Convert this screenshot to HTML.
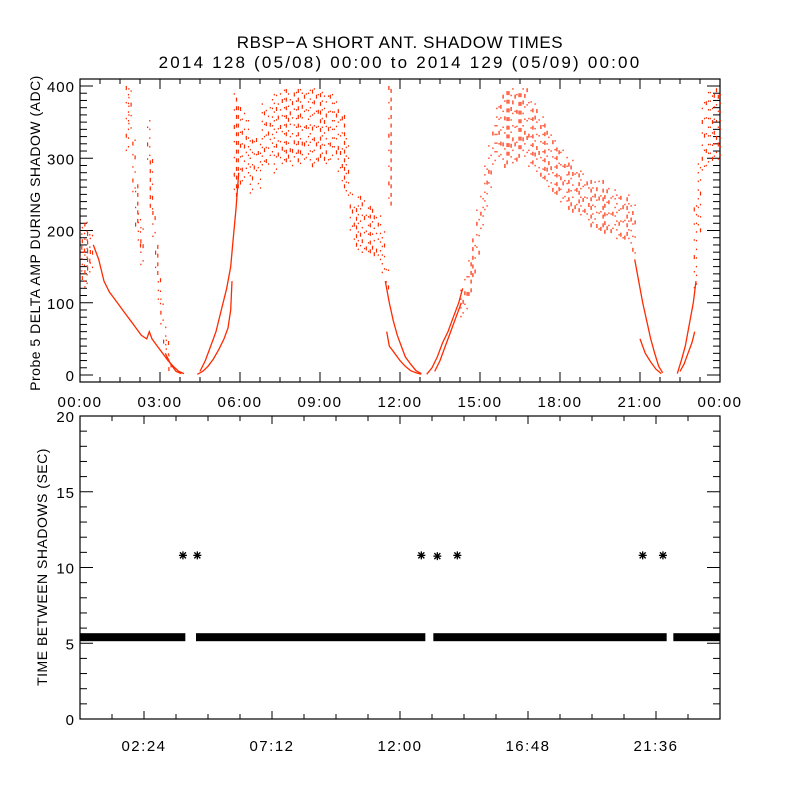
<!DOCTYPE html>
<html><head><meta charset="utf-8"><style>
body{margin:0;background:#fff}
svg{display:block;font-family:"Liberation Sans",sans-serif}
</style></head><body>
<svg id="chart" width="800" height="800" viewBox="0 0 800 800" xmlns="http://www.w3.org/2000/svg">
<rect width="800" height="800" fill="#fff"/>
<text x="400" y="48" text-anchor="middle" font-size="17" letter-spacing="0.6">RBSP−A SHORT ANT. SHADOW TIMES</text>
<text x="400" y="68" text-anchor="middle" font-size="17" letter-spacing="2.2">2014 128 (05/08) 00:00 to 2014 129 (05/09) 00:00</text>
<g id="topPanel"></g>
<g id="botPanel"></g>
</svg>
<script>
// ---- top panel data ----
const scatterT=[0.0,0.1,0.2,0.3,0.4,1.75,1.85,2.0,2.1,2.2,2.3,2.55,2.65,2.75,2.85,2.95,3.05,3.15,3.25,3.35,
5.8,5.95,6.1,6.25,6.4,6.55,6.7,6.85,7.0,7.15,7.3,7.45,7.6,7.75,7.9,8.05,8.2,8.35,8.5,8.65,8.8,8.95,9.1,9.25,9.4,9.55,9.7,9.85,10.0,
10.15,10.3,10.45,10.6,10.75,10.9,11.05,11.2,11.35,11.5,11.6,
14.3,14.45,14.6,14.75,14.9,15.05,15.2,15.35,15.5,15.65,15.8,15.95,16.1,16.25,16.4,16.55,16.7,16.85,17.0,17.15,17.3,17.45,17.6,17.75,17.9,18.05,18.2,18.35,18.5,18.65,18.8,18.95,19.1,19.25,19.4,19.55,19.7,19.85,20.0,20.15,20.3,20.45,20.6,20.75,
23.05,23.2,23.35,23.5,23.65,23.8,23.95];
const scatterLo=[140,130,120,140,150,310,340,250,210,180,150,300,230,190,140,100,70,40,20,10,
250,260,270,280,250,280,260,290,290,300,280,300,290,300,290,300,290,300,300,290,290,300,300,290,300,310,280,260,250,
200,180,170,170,170,170,170,160,140,120,240,
80,90,110,140,170,200,230,260,290,300,300,290,300,290,300,310,300,290,290,280,270,270,260,250,250,240,240,230,230,230,220,220,210,210,200,200,200,200,200,190,190,190,180,170,
120,200,280,290,300,300,300];
const scatterHi=[200,210,220,200,205,400,400,330,270,230,220,360,300,240,190,140,110,70,50,30,
390,380,370,360,330,340,320,380,380,390,390,390,400,400,390,400,400,400,400,400,400,400,400,390,390,380,370,360,330,
260,240,250,250,240,240,230,230,200,150,400,
120,140,160,190,230,250,290,320,350,380,390,400,400,400,400,400,400,390,380,370,360,350,340,330,320,320,310,300,300,290,290,280,280,270,270,270,260,260,260,250,250,250,250,240,
240,300,380,400,400,400,400];
const decayT=[0.5,0.7,0.9,1.1,1.3,1.5,1.7,1.9,2.1,2.3,2.5,2.6,2.7,2.9,3.1,3.3,3.5,3.7,3.9];
const decayV=[180,160,130,115,105,95,85,75,65,55,50,60,50,40,30,20,12,5,2];
const fall1T=[3.2,3.4,3.6,3.8];
const fall1V=[30,15,5,2];
const rise1UpT=[4.5,4.7,4.9,5.1,5.3,5.5,5.65,5.75,5.85,5.95];
const rise1UpV=[5,20,40,60,90,120,150,190,230,280];
const rise1LoT=[4.4,4.6,4.8,5.0,5.2,5.4,5.55,5.65,5.7];
const rise1LoV=[1,5,12,22,35,50,65,90,130];
const fall2UpT=[11.45,11.6,11.75,11.9,12.05,12.2,12.4,12.6,12.8];
const fall2UpV=[130,100,75,55,40,25,15,6,2];
const fall2LoT=[11.5,11.6,11.8,12.0,12.2,12.4,12.6,12.8];
const fall2LoV=[60,40,30,20,12,6,3,1];
const rise2UpT=[13.0,13.2,13.4,13.6,13.8,14.0,14.2,14.35];
const rise2UpV=[1,10,25,45,60,80,100,120];
const rise2LoT=[13.3,13.5,13.7,13.9,14.1,14.3];
const rise2LoV=[5,20,40,60,80,100];
const fall3UpT=[20.8,20.95,21.1,21.25,21.4,21.55,21.7,21.85];
const fall3UpV=[160,130,100,75,50,30,12,3];
const fall3LoT=[21.0,21.2,21.4,21.6,21.8];
const fall3LoV=[50,30,18,8,2];
const rise3UpT=[22.4,22.55,22.7,22.85,23.0,23.1];
const rise3UpV=[2,20,40,70,100,130];
const rise3LoT=[22.5,22.65,22.8,22.95,23.05];
const rise3LoV=[5,15,30,45,60];
const topXLabels=["00:00","03:00","06:00","09:00","12:00","15:00","18:00","21:00","00:00"];
const topYTicks=[0,100,200,300,400];
// ---- bottom panel data ----
const bandStart=[0,4.35,13.25,22.25];
const bandEnd=[3.95,12.95,22.0,24];
const bandValue=[5.4,5.4,5.4,5.4];
const starT=[3.86,4.4,12.8,13.4,14.15,21.1,21.86];
const starV=[10.8,10.8,10.8,10.75,10.8,10.8,10.8];
const botXTickHours=[2.4,7.2,12,16.8,21.6];
const botXLabels=["02:24","07:12","12:00","16:48","21:36"];
const botYTicks=[0,5,10,15,20];

const NS="http://www.w3.org/2000/svg";
function mk(parent,tag,attrs){const e=document.createElementNS(NS,tag);for(const k in attrs)e.setAttribute(k,attrs[k]);parent.appendChild(e);return e;}
const PL=80,PR=720;
const xs=h=>PL+h*(PR-PL)/24;
// top
const TT=79,TB=382;
const yt=v=>375-v*(375-86)/400;
const topG=document.getElementById('topPanel');
const tf=mk(topG,'rect',{x:PL,y:TT,width:PR-PL,height:TB-TT,fill:'none',stroke:'#000','stroke-width':1.2});


for(let v=0;v<=400;v+=10){const y=yt(v);const len=v%100===0?13:7;
 mk(topG,'line',{x1:PL,y1:y,x2:PL+len,y2:y,stroke:'#000'});mk(topG,'line',{x1:PR,y1:y,x2:PR-len,y2:y,stroke:'#000'});}
topYTicks.forEach(v=>{const t=mk(topG,'text',{x:75,y:yt(v)+6,'text-anchor':'end','font-size':15,'letter-spacing':1});t.textContent=v;
 
 });
for(let k=0;k<=32;k++){const x=xs(k*0.75);const len=(k%4===0)?10:5;
 mk(topG,'line',{x1:x,y1:TB,x2:x,y2:TB-len,stroke:'#000'});mk(topG,'line',{x1:x,y1:TT,x2:x,y2:TT+len,stroke:'#000'});}
topXLabels.forEach((s,i)=>{const t=mk(topG,'text',{x:xs(i*3),y:407,'text-anchor':'middle','font-size':15,'letter-spacing':1.5});t.textContent=s;
 
 });
const yl=mk(topG,'text',{transform:'translate(40,233) rotate(-90)','text-anchor':'middle','font-size':14,'letter-spacing':0.5});yl.textContent='Probe 5 DELTA AMP DURING SHADOW (ADC)';


const red='#ff2a00';
const sg=mk(topG,'g',{fill:red});


scatterT.forEach((t,i)=>{const lo=scatterLo[i],hi=scatterHi[i];
 for(let k=0;k<2;k++){const x=xs(t)+k*2.2-1;
  for(let v=lo+((i*7+k*5)%11);v<=hi;v+=12+((k+i)%3)*5){
   mk(sg,'rect',{x:x.toFixed(1),y:yt(v).toFixed(1),width:1.2,height:((i+k+Math.round(v))%3===0)?4:1.5});}}});
const lines=[[decayT,decayV],[fall1T,fall1V],[rise1UpT,rise1UpV],[rise1LoT,rise1LoV],[fall2UpT,fall2UpV],[fall2LoT,fall2LoV],[rise2UpT,rise2UpV],[rise2LoT,rise2LoV],[fall3UpT,fall3UpV],[fall3LoT,fall3LoV],[rise3UpT,rise3UpV],[rise3LoT,rise3LoV]];
lines.forEach(([T,V])=>{const p=mk(topG,'polyline',{points:T.map((t,i)=>xs(t).toFixed(1)+','+yt(V[i]).toFixed(1)).join(' '),fill:'none',stroke:red,'stroke-width':1.3});
 
 });
// bottom
const BT=416,BB=719;
const yb=v=>BB-v*(BB-BT)/20;
const botG=document.getElementById('botPanel');
const bf=mk(botG,'rect',{x:PL,y:BT,width:PR-PL,height:BB-BT,fill:'none',stroke:'#000','stroke-width':1.2});


for(let v=0;v<=20;v++){const y=yb(v);const len=v%5===0?13:7;
 mk(botG,'line',{x1:PL,y1:y,x2:PL+len,y2:y,stroke:'#000'});mk(botG,'line',{x1:PR,y1:y,x2:PR-len,y2:y,stroke:'#000'});}
botYTicks.forEach(v=>{const t=mk(botG,'text',{x:75,y:yb(v)+6,'text-anchor':'end','font-size':15,'letter-spacing':1});t.textContent=v;
 
 });
for(let k=1;k<20;k++){const x=xs(k*1.2);const len=(k%4===2)?8:5;
 mk(botG,'line',{x1:x,y1:BB,x2:x,y2:BB-len,stroke:'#000'});mk(botG,'line',{x1:x,y1:BT,x2:x,y2:BT+len,stroke:'#000'});}
botXLabels.forEach((s,i)=>{const t=mk(botG,'text',{x:xs(botXTickHours[i]),y:751,'text-anchor':'middle','font-size':15,'letter-spacing':1.5});t.textContent=s;
 
 });
const yl2=mk(botG,'text',{transform:'translate(47,567) rotate(-90)','text-anchor':'middle','font-size':14,'letter-spacing':0.5});yl2.textContent='TIME BETWEEN SHADOWS (SEC)';


bandStart.forEach((s,i)=>{const r=mk(botG,'rect',{x:xs(s),y:yb(bandValue[i])-4,width:xs(bandEnd[i])-xs(s),height:8,fill:'#000'});
 
 });
starT.forEach((t,i)=>{const g=mk(botG,'g',{stroke:'#000','stroke-width':1.3,transform:`translate(${xs(t)},${yb(starV[i])})`});
 
 
 mk(g,'line',{x1:-4,y1:0,x2:4,y2:0});mk(g,'line',{x1:0,y1:-4,x2:0,y2:4});
 mk(g,'line',{x1:-3,y1:-3,x2:3,y2:3});mk(g,'line',{x1:-3,y1:3,x2:3,y2:-3});});
</script>
</body></html>
